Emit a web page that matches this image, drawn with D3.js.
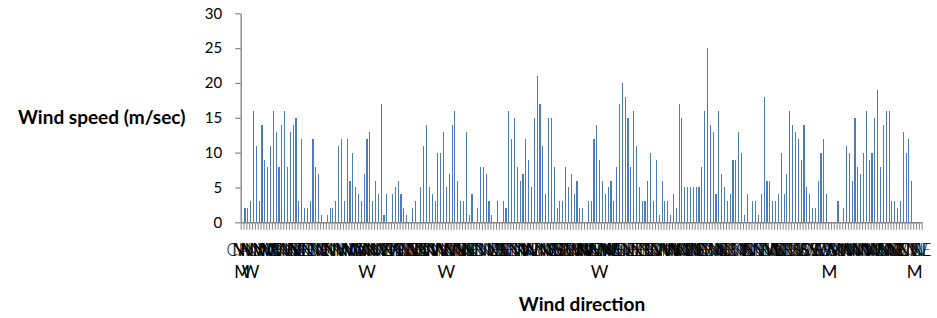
<!DOCTYPE html>
<html><head><meta charset="utf-8">
<script src="https://cdn.jsdelivr.net/npm/d3@7/dist/d3.min.js"></script>
<style>
body{margin:0;background:#fff;}
svg{display:block;font-family:Lato,'Open Sans',sans-serif;}
</style></head><body>
<svg id="chart" width="937" height="318"></svg>
<script>
const directions = [
"CALM","N","NW","WNW","NNW","NW","N","NNW","NW","N",
"NE","N","NW","NNW","N","NE","ENE","N","NW","N",
"NE","E","NE","N","NNW","NW","N","NE","N","E",
"N","NW","NNW","N","NW","N","NNW","NW","N","NE",
"N","NW","NNW","N","WNW","N","NW","NNW","N","NW",
"NNW","N","E","NE","N","ENE","N","NW","N","NE",
"ENE","E","NE","N","NW","NNW","N","NW","NNW","N",
"NW","NNW","WNW","N","NW","NE","NNE","ENE","N","NE",
"N","NE","E","N","NW","NNW","N","NE","NNE","E",
"NE","N","SE","E","NE","N","NW","NNW","N","NW",
"N","NE","N","NNW","NW","N","NNW","N","NE","N",
"NW","NNE","S","SE","SSW","SW","NNW","NW","N","NW",
"N","NNE","NE","N","NW","NNW","WNW","NW","N","NNE",
"NE","N","NW","NNW","N","NE","ENE","E","NE","N",
"E","NE","ESE","E","N","W","NW","NNW","N","NW",
"NNW","N","N","NW","NNW","N","W","NW","NNW","N",
"NE","ESE","E","NW","N","NW","NNW","N","NE","N",
"E","NE","N","NW","NNW","N","NE","N","E","N",
"NE","N","NW","NNW","N","NW","N","NE","ENE","E",
"N","NE","N","NW","NNW","N","NE","N","S","SW",
"SSW","SW","S","SE","NW","W","SW","CALM","S","SW",
"W","NW","N","NW","NNW","N","W","NW","NNW","N",
"NW","NNW","N","NE","N","NW","NNW","N","NE","NW",
"N","NE","E","NW","NNW","NE","N","CALM","N","NE"
];
const speeds = [
0,
2,2,3,16,11,3,14,9,8,11, 16,13,8,14,16,8,13,14,15,3, 12,2,2,3,12,8,7,1,0,1,
2,2,3,11,12,3,12,6,10,5, 4,3,7,12,13,3,6,4,17,1, 4,0,4,5,6,4,2,1,
0,2,3,0,5,11,14,5,4,3, 10,10,13,5,7,14,16,6,3,3, 13,1,4,0,2,8,8,7,3,1,
0,3,0,3,2,16,12,15,8,6, 7,12,9,5,15,21,17,11,4,15, 15,8,2,3,3,8,5,7,4,6,
2,2,0,3,3,12,14,9,6,4, 5,6,3,8,17,20,18,15,8,16, 11,5,3,3,6,10,3,9,1,6,
3,3,1,4,2,17,15,5,5,5, 5,5,5,8,16,25,14,13,4,16, 7,5,3,4,9,9,13,10,1,4,
0,3,3,1,4,18,6,6,3,3, 4,10,4,7,16,14,13,12,9,14, 5,4,2,2,6,10,12,4,0,0,
0,3,0,2,11,10,6,15,8,7, 10,16,9,10,15,19,8,14,16,16, 3,3,2,3,13,10,12,6,
0,0,0
];
const yTickValues = [0,5,10,15,20,25,30];
const yTitle = "Wind speed (m/sec)";
const xTitle = "Wind direction";

const svg = d3.select("#chart");
const plotLeft = 240.7, plotRight = 921.7, plotTop = 13.3, plotBottom = 222.3;
const axisColor = "#868686";

const x = d3.scaleBand().domain(d3.range(speeds.length))
  .range([plotLeft, plotRight]).paddingInner(0.6).paddingOuter(0.3);
const xEdges = d3.scaleLinear().domain([0, speeds.length]).range([plotLeft, plotRight]);
const y = d3.scaleLinear().domain([0, 30]).range([plotBottom, plotTop]);

// bars
svg.append("g").attr("shape-rendering", "crispEdges")
  .selectAll("rect").data(speeds).join("rect")
  .attr("x", (d,i) => x(i))
  .attr("width", x.bandwidth())
  .attr("y", d => y(d))
  .attr("height", d => y(0) - y(d))
  .attr("fill", "#4a7ebb");

// y axis
const yAxis = svg.append("g").attr("transform", `translate(${plotLeft},0)`)
  .call(d3.axisLeft(y).tickValues(yTickValues).tickSize(5.5).tickPadding(13).tickSizeOuter(0));
yAxis.select(".domain").attr("stroke", axisColor).attr("stroke-width", 1.4);
yAxis.selectAll(".tick line").attr("stroke", axisColor).attr("stroke-width", 1.2);
yAxis.selectAll(".tick text").attr("font-size", 15).attr("fill", "#000").attr("font-family", "Lato");

// x axis ticks (category boundaries)
const xAxis = svg.append("g").attr("transform", `translate(0,${plotBottom})`)
  .call(d3.axisBottom(xEdges).tickValues(d3.range(speeds.length + 1)).tickFormat("").tickSize(7.5).tickSizeOuter(0));
xAxis.select(".domain").attr("stroke", axisColor).attr("stroke-width", 1.4);
xAxis.selectAll(".tick line").attr("stroke", axisColor).attr("stroke-width", 1);

// category labels (wrap like the original when too wide)
const labelG = svg.append("g").attr("font-size", 17)
  .attr("fill", "#000").attr("text-anchor", "middle");
const maxLabelWidth = 43;
directions.forEach((lab, i) => {
  const cx = x(i) + x.bandwidth() / 2;
  const t = labelG.append("text").attr("x", cx).attr("y", 255.7)
    .attr("font-weight", 300).text(lab);
  if (t.node().getComputedTextLength() > maxLabelWidth) {
    t.text(lab.slice(0, -1));
    labelG.append("text").attr("x", cx).attr("y", 277.7).text(lab.slice(-1));
  }
});

// titles
svg.append("text").attr("x", 18).attr("y", 123.5)
  .attr("font-size", 19).attr("font-weight", "bold").attr("fill", "#000")
  .text(yTitle);
svg.append("text").attr("x", 582).attr("y", 311).attr("text-anchor", "middle")
  .attr("font-size", 19).attr("font-weight", "bold").attr("fill", "#000")
  .text(xTitle);
</script>
</body></html>
